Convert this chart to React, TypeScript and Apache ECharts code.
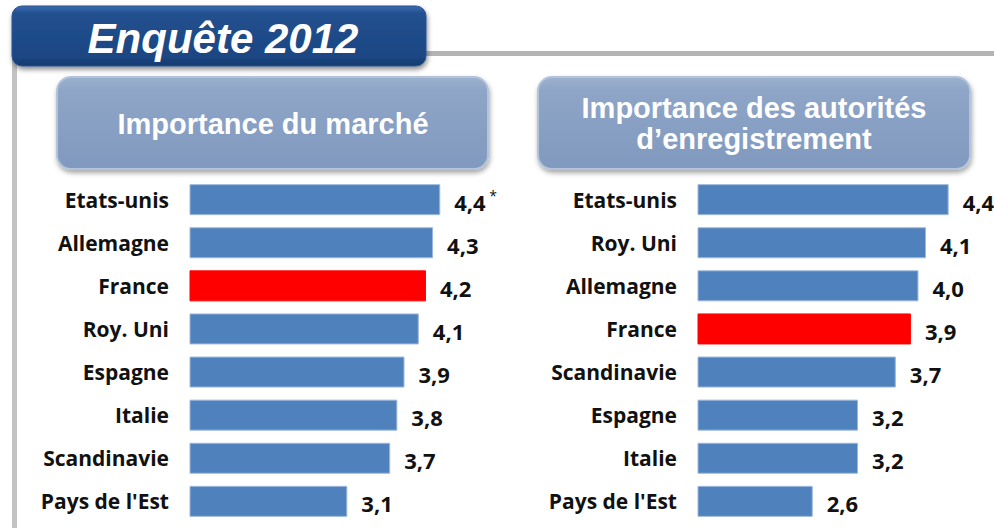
import React, { useEffect, useRef } from "react";
import * as echarts from "echarts";

const titleText = "Enquête 2012";
const leftTitle = "Importance du marché";
const rightTitle = "Importance des autorités\nd’enregistrement";

const leftCategories = ["Etats-unis", "Allemagne", "France", "Roy. Uni", "Espagne", "Italie", "Scandinavie", "Pays de l'Est"];
const leftValues = [4.4, 4.3, 4.2, 4.1, 3.9, 3.8, 3.7, 3.1];
const leftNotes = ["*", "", "", "", "", "", "", ""];

const rightCategories = ["Etats-unis", "Roy. Uni", "Allemagne", "France", "Scandinavie", "Espagne", "Italie", "Pays de l'Est"];
const rightValues = [4.4, 4.1, 4.0, 3.9, 3.7, 3.2, 3.2, 2.6];
const rightNotes = ["", "", "", "", "", "", "", ""];

const highlighted = "France";

const BLUE = "#4f81bd";
const RED = "#ff0000";
const LABEL_FONT = "'Open Sans', Lato, sans-serif";

function makeData(cats: string[], vals: number[]) {
  return vals.map((v, i) => ({
    value: v,
    itemStyle: {
      color: cats[i] === highlighted ? RED : BLUE,
      borderColor: cats[i] === highlighted ? RED : "#9db8dc",
      borderWidth: 1,
    },
  }));
}

function fmt(notes: string[]) {
  return (p: any) => {
    const s = Number(p.value).toFixed(1).replace(".", ",");
    const n = notes[p.dataIndex];
    return n ? `{v|${s}}{n| ${n}}` : `{v|${s}}`;
  };
}

const labelRich = {
  v: { fontFamily: LABEL_FONT, fontWeight: "bold", fontSize: 22, color: "#111" },
  n: { fontFamily: LABEL_FONT, fontSize: 14, color: "#111", verticalAlign: "top", padding: [0, 0, 12, 0] },
};

export default function App() {
  const ref = useRef<HTMLDivElement>(null);
  useEffect(() => {
    if (!ref.current) return;
    const chart = echarts.init(ref.current, undefined, { renderer: "svg" });
    const barTop = 178.1;
    const pitch = 43.1;
    const gridH = pitch * 8;
    const leftMin = 0.9, leftMax = 5, leftK = 71.5;
    const rightMin = 1.08, rightMax = 5, rightK = 75.5;
    const mkHeaderFill = () => new echarts.graphic.LinearGradient(0, 0, 0, 1, [
      { offset: 0, color: "#9cb1cf" },
      { offset: 0.15, color: "#8ea5c7" },
      { offset: 1, color: "#8099be" },
    ]);
    const catLabel = { margin: 21, fontFamily: LABEL_FONT, fontWeight: "bold", fontSize: 21, color: "#111" };
    chart.setOption({
      animation: false,
      backgroundColor: "#ffffff",
      grid: [
        { left: 190, top: barTop, width: leftK * (leftMax - leftMin), height: gridH, containLabel: false },
        { left: 698, top: barTop, width: rightK * (rightMax - rightMin), height: gridH, containLabel: false },
      ],
      xAxis: [
        { type: "value", gridIndex: 0, min: leftMin, max: leftMax, show: false },
        { type: "value", gridIndex: 1, min: rightMin, max: rightMax, show: false },
      ],
      yAxis: [
        {
          type: "category", gridIndex: 0, data: leftCategories, inverse: true,
          axisLine: { show: false }, axisTick: { show: false }, axisLabel: catLabel,
        },
        {
          type: "category", gridIndex: 1, data: rightCategories, inverse: true,
          axisLine: { show: false }, axisTick: { show: false }, axisLabel: catLabel,
        },
      ],
      series: [
        {
          type: "bar", xAxisIndex: 0, yAxisIndex: 0, barWidth: 31,
          data: makeData(leftCategories, leftValues),
          label: { show: true, position: "right", distance: 14, offset: [0, 2], formatter: fmt(leftNotes), rich: labelRich },
        },
        {
          type: "bar", xAxisIndex: 1, yAxisIndex: 1, barWidth: 31,
          data: makeData(rightCategories, rightValues),
          label: { show: true, position: "right", distance: 14, offset: [0, 2], formatter: fmt(rightNotes), rich: labelRich },
        },
      ],
      graphic: [
        { type: "rect", shape: { x: 426, y: 51, width: 568, height: 5 }, style: { fill: "#b4b4b4" }, silent: true },
        { type: "rect", shape: { x: 12, y: 60, width: 5, height: 468 }, style: { fill: "#c3c3c3" }, silent: true },
        {
          type: "rect", shape: { x: 12, y: 6, width: 414, height: 60, r: 10 },
          style: {
            fill: new echarts.graphic.LinearGradient(0, 0, 0, 1, [
              { offset: 0, color: "#3c6bb0" },
              { offset: 0.12, color: "#23508f" },
              { offset: 0.85, color: "#1b4683" },
              { offset: 1, color: "#153a6e" },
            ]),
            stroke: "#2a5494", lineWidth: 1,
            shadowBlur: 5, shadowOffsetX: 1, shadowOffsetY: 3, shadowColor: "rgba(0,0,0,0.45)",
          },
          silent: true,
        },
        {
          type: "text", x: 223, y: 38,
          style: {
            text: titleText, fill: "#ffffff", font: "italic bold 42px 'Liberation Sans', Arial, sans-serif",
            textAlign: "center", textVerticalAlign: "middle",
          },
          silent: true,
        },
        {
          type: "rect", shape: { x: 57, y: 77, width: 431, height: 92, r: 14 },
          style: {
            fill: mkHeaderFill(), stroke: "#b3c3da", lineWidth: 2,
            shadowBlur: 5, shadowOffsetX: 1, shadowOffsetY: 3, shadowColor: "rgba(0,0,0,0.35)",
          },
          silent: true,
        },
        {
          type: "text", x: 273, y: 124,
          style: {
            text: leftTitle, fill: "#ffffff", font: "bold 29px 'Liberation Sans', Arial, sans-serif",
            textAlign: "center", textVerticalAlign: "middle",
          },
          silent: true,
        },
        {
          type: "rect", shape: { x: 538, y: 77, width: 432, height: 92, r: 14 },
          style: {
            fill: mkHeaderFill(), stroke: "#b3c3da", lineWidth: 2,
            shadowBlur: 5, shadowOffsetX: 1, shadowOffsetY: 3, shadowColor: "rgba(0,0,0,0.35)",
          },
          silent: true,
        },
        {
          type: "text", x: 754, y: 123,
          style: {
            text: rightTitle, fill: "#ffffff", font: "bold 29px 'Liberation Sans', Arial, sans-serif",
            textAlign: "center", textVerticalAlign: "middle", lineHeight: 31,
          },
          silent: true,
        },
      ],
    });
    return () => chart.dispose();
  }, []);
  return <div ref={ref} style={{ position: "absolute", left: 0, top: 0, width: 994, height: 528 }} />;
}
